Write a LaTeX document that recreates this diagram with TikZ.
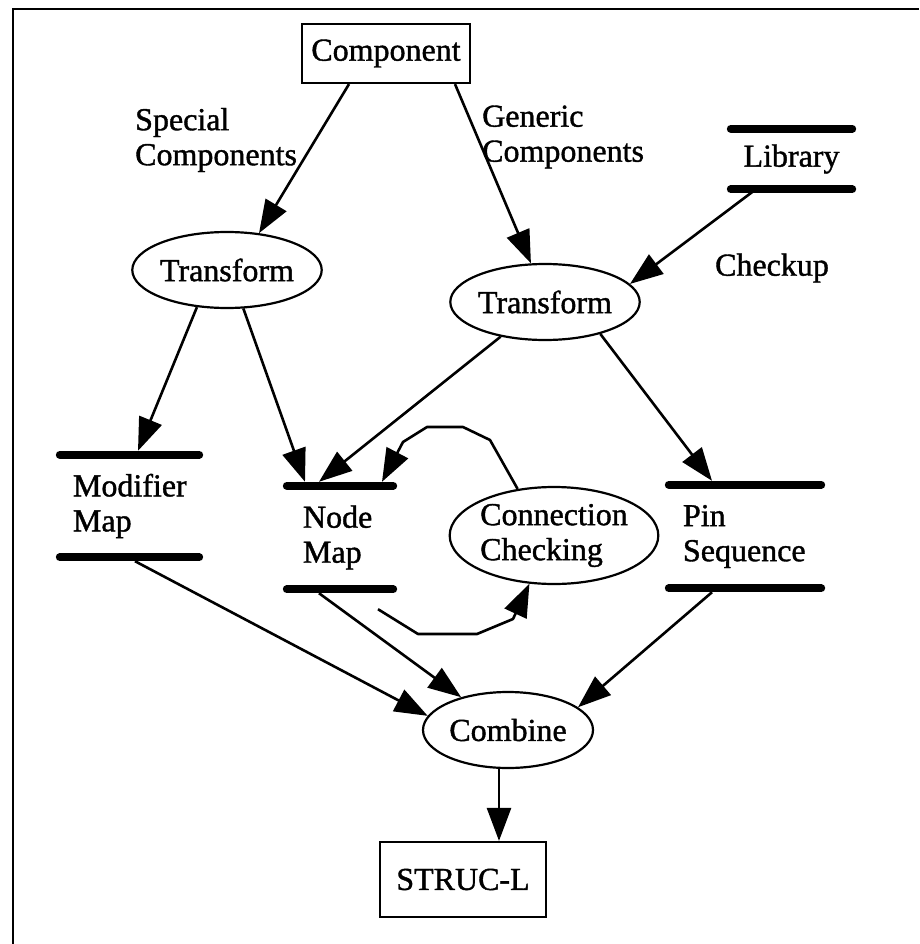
\documentclass[tikz,border=0pt]{standalone}
\usepackage{fontspec}
\setmainfont{Liberation Serif}[FakeBold=1.2]
\usetikzlibrary{arrows.meta,shapes.geometric}
\begin{document}
\begin{tikzpicture}[x=1pt,y=-1pt,
  every node/.style={font=\fontsize{32}{35}\selectfont, inner sep=0pt},
  proc/.style={draw, line width=2.2pt, ellipse},
  term/.style={draw, line width=2.2pt, rectangle},
  store/.style={rectangle, align=left},
  bar/.style={line width=8pt, line cap=round},
  flow/.style={line width=2.6pt, line join=round, -{Triangle[length=33pt,width=24pt]}},
  lbl/.style={align=left}]
\useasboundingbox (0,0) rectangle (919,944);

% frame
\draw[line width=2.5pt] (13,944) -- (13,9) -- (919,9);

% processes and terminals
\node[term, minimum width=168pt, minimum height=59pt] (comp) at (386,53.5) {Component};
\node[proc, minimum width=182pt, minimum height=76pt] (tl) at (227,270) {Transform};
\node[proc, minimum width=188pt, minimum height=76pt] (tr) at (545,302) {Transform};
\node[proc, minimum width=202pt, minimum height=97pt, align=left] (cc) at (554,535.5) {Connection\\Checking};
\node[proc, minimum width=170pt, minimum height=76pt] (cb) at (508,730) {Combine};
\node[term, minimum width=166pt, minimum height=75pt] (sl) at (463,879.5) {STRUC-L};

% data stores
\node[store, align=center, minimum width=121pt, minimum height=60pt] (lib) at (791.5,159) {Library};
\node[store, minimum width=139pt, minimum height=102pt, text width=113pt, inner xsep=13pt] (mod) at (129.5,506) {Modifier\\Map};
\node[store, minimum width=106pt, minimum height=103pt, text width=74pt, inner xsep=16pt] (nm) at (340,537.5) {Node\\Map};
\node[store, minimum width=152pt, minimum height=103pt, text width=124pt, inner xsep=14pt] (pin) at (745,536.5) {Pin\\Sequence};
\foreach \s in {lib,mod,nm,pin}{
  \draw[bar] (\s.north west) -- (\s.north east);
  \draw[bar] (\s.south west) -- (\s.south east);
}

% labels
\node[lbl, anchor=west] (sp) at (135,140) {Special\\Components};
\node[lbl, anchor=west] (ge) at (482,137) {Generic\\Components};
\node (ck) at (772,268) {Checkup};

% flows
\draw[flow] ([xshift=-37pt]comp.south) -- (tl.49);
\draw[flow] ([xshift=69pt]comp.south) -- (tr.110);
\draw[flow] ([xshift=-35.5pt]lib.south) -- (tr.12);
\draw[flow] (tl.231) -- ([xshift=8.5pt,yshift=4pt]mod.north);
\draw[flow] (tl.-67) -- ([xshift=-35pt,yshift=4pt]nm.north);
\draw[flow] (tr.218) -- ([xshift=-21pt,yshift=4pt]nm.north);
\draw[flow] (tr.-30) -- ([xshift=-33pt,yshift=4pt]pin.north);
\draw[flow] ([xshift=5.5pt,yshift=-4pt]mod.south) -- (cb.170);
\draw[flow] ([xshift=-21pt,yshift=-4pt]nm.south) -- (cb.145);
\draw[flow] ([xshift=-33pt,yshift=-4pt]pin.south) -- (cb.18);
\draw[flow] ([xshift=-9pt]cb.south) -- ([xshift=36pt]sl.north);

% checking loop
\draw[flow] (cc.128) -- (490,440) -- (463,427) -- (427,427) -- (403,442)
  -- ([xshift=42pt,yshift=4pt]nm.north);
\coordinate (nmout) at ([xshift=38pt,yshift=-20pt]nm.south);
\draw[flow] (nmout) -- (418,634) -- (477,634) -- (513,619) -- (cc.243);
\end{tikzpicture}
\end{document}
